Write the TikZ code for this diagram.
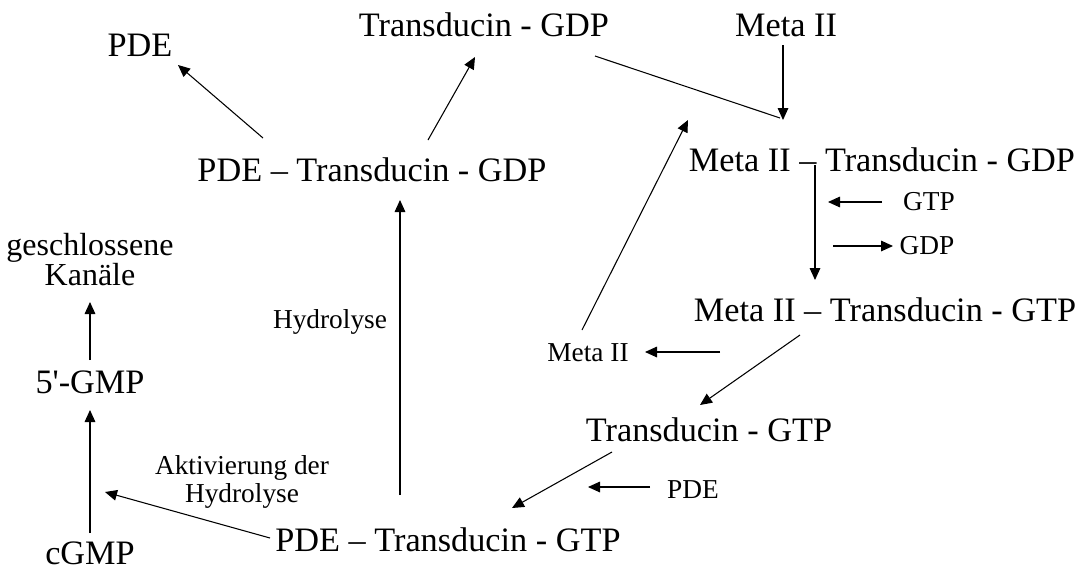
\documentclass[tikz,border=0pt]{standalone}
\usepackage{fontspec}
\setmainfont{Liberation Serif}
\usetikzlibrary{arrows.meta}

\begin{document}
\begin{tikzpicture}
  [x=0.75pt,y=-0.75pt,
   big/.style={inner sep=0pt,font=\fontsize{25.7}{22.5}\selectfont},
   small/.style={inner sep=0pt,font=\fontsize{20.5}{21}\selectfont,align=center},
   arr/.style={-{Triangle[length=9pt,width=8pt]},line width=0.8pt}]
  \useasboundingbox (0,0) rectangle (1075,572);

  \node[big] (pde) at (140,45) {PDE};
  \node[big] (tgdp) at (484,25) {Transducin - GDP};
  \node[big] (meta) at (786,25) {Meta II};
  \node[big] (pdegdp) at (372,170) {PDE -- Transducin - GDP};
  \node[big] (mgdp) at (882,160) {Meta II -- Transducin - GDP};
  \node[small] (gtpin) at (929,202) {GTP};
  \node[small] (gdpout) at (927,246) {GDP};
  \node[big,align=center,font=\fontsize{24}{22.5}\selectfont] (kanal) at (90,260) {geschlossene\\Kanäle};
  \node[big] (mgtp) at (885,310) {Meta II -- Transducin - GTP};
  \node[small] (hydro) at (330,322) {Hydrolyse};
  \node[small] (metaout) at (588,353) {Meta II};
  \node[big] (gmp) at (90,382) {5\textquotesingle-GMP};
  \node[big] (tgtp) at (709,430) {Transducin - GTP};
  \node[small] (akt) at (242,482) {Aktivierung der\\Hydrolyse};
  \node[small] (pdein) at (693,490) {PDE};
  \node[big] (pdegtp) at (448,540) {PDE -- Transducin - GTP};
  \node[big] (cgmp) at (90,553) {cGMP};

  % Zerfall des Komplexes
  \draw[arr] ([shift={(-109,-32)}]pdegdp.center) -- ([shift={(38,20)}]pde.center);
  \draw[arr] ([shift={(56,-30)}]pdegdp.center) -- ([shift={(-9,32)}]tgdp.center);
  \draw[line width=0.8pt] ([shift={(111,31)}]tgdp.center) -- ([shift={(-102,-42)}]mgdp.center);
  \draw[arr] ([shift={(-3,20)}]meta.center) -- ([shift={(-99,-40)}]mgdp.center);

  % GTP-GDP Austausch
  \draw[arr] ([shift={(-67,5)}]mgdp.center) -- ([shift={(-70,-30)}]mgtp.center);
  \draw[arr] ([shift={(-47,0)}]gtpin.center) -- ([shift={(-101,0)}]gtpin.center);
  \draw[arr] ([shift={(-94,0)}]gdpout.center) -- ([shift={(-34,0)}]gdpout.center);
  \draw[arr] ([shift={(-85,25)}]mgtp.center) -- ([shift={(-9,-25)}]tgtp.center);
  \draw[arr] ([shift={(132,-1)}]metaout.center) -- ([shift={(57,-1)}]metaout.center);
  \draw[arr] ([shift={(-6,-23)}]metaout.center) -- ([shift={(-194,-40)}]mgdp.center);

  % PDE Aktivierung
  \draw[arr] ([shift={(-97,22)}]tgtp.center) -- ([shift={(64,-32)}]pdegtp.center);
  \draw[arr] ([shift={(-43,-3)}]pdein.center) -- ([shift={(-105,-3)}]pdein.center);
  \draw[arr] ([shift={(-48,-45)}]pdegtp.center) -- ([shift={(28,30)}]pdegdp.center);
  \draw[arr] ([shift={(-178,-2)}]pdegtp.center) -- ([shift={(15,-61)}]cgmp.center);

  % cGMP Abbau
  \draw[arr] ([shift={(0,-20)}]cgmp.center) -- ([shift={(0,28)}]gmp.center);
  \draw[arr] ([shift={(0,-22)}]gmp.center) -- ([shift={(0,42)}]kanal.center);

\end{tikzpicture}
\end{document}
